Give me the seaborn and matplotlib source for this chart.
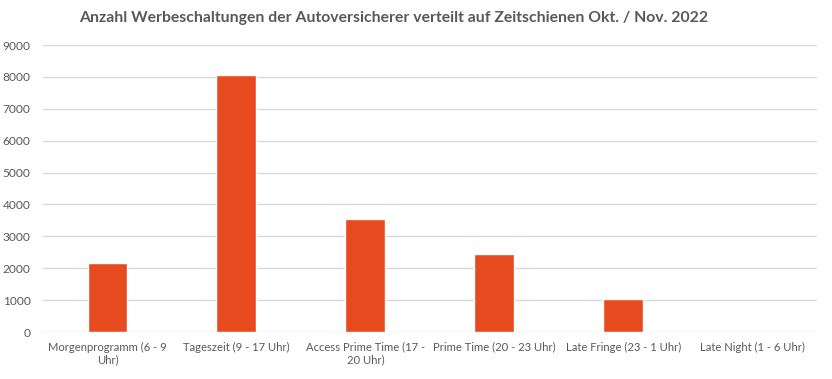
import matplotlib
matplotlib.use("Agg")
import matplotlib.pyplot as plt
import seaborn as sns
import pandas as pd

categories = ["Morgenprogramm (6 - 9\nUhr)", "Tageszeit (9 - 17 Uhr)", "Access Prime Time (17 -\n20 Uhr)",
              "Prime Time (20 - 23 Uhr)", "Late Fringe (23 - 1 Uhr)", "Late Night (1 - 6 Uhr)"]
values = [2150, 8060, 3540, 2460, 1020, 0]
yticks = [0, 1000, 2000, 3000, 4000, 5000, 6000, 7000, 8000, 9000]

sns.set_theme(style="white")
plt.rcParams['font.family'] = ['Lato', 'DejaVu Sans']

df = pd.DataFrame({"cat": categories, "val": values})
fig = plt.figure(figsize=(8.32, 3.79), dpi=100)
ax = fig.add_axes([0.0517, 0.124, 0.930, 0.757])
sns.barplot(data=df, x="cat", y="val", color="#E84A1F", width=0.31, saturation=1, ax=ax, zorder=3)
ax.set_ylim(0, 9000)
ax.set_xlim(-0.5, 5.5)
ax.set_yticks(yticks)
ax.set_yticklabels([str(t) for t in yticks])
ax.yaxis.grid(True, color="#d9d9d9", linewidth=1, zorder=0)
ax.set_axisbelow(True)
for s in ax.spines.values():
    s.set_visible(False)
ax.tick_params(axis='y', length=0, colors="#595959", labelsize=8.6, pad=9)
ax.tick_params(axis='x', length=0, colors="#595959", labelsize=8.1, pad=7)
ax.set_xlabel("")
ax.set_ylabel("")
fig.suptitle("Anzahl Werbeschaltungen der Autoversicherer verteilt auf Zeitschienen Okt. / Nov. 2022",
             x=0.473, y=0.97, fontsize=11.3, fontweight="bold", color="#595959")
fig.savefig("out.png", dpi=100)
